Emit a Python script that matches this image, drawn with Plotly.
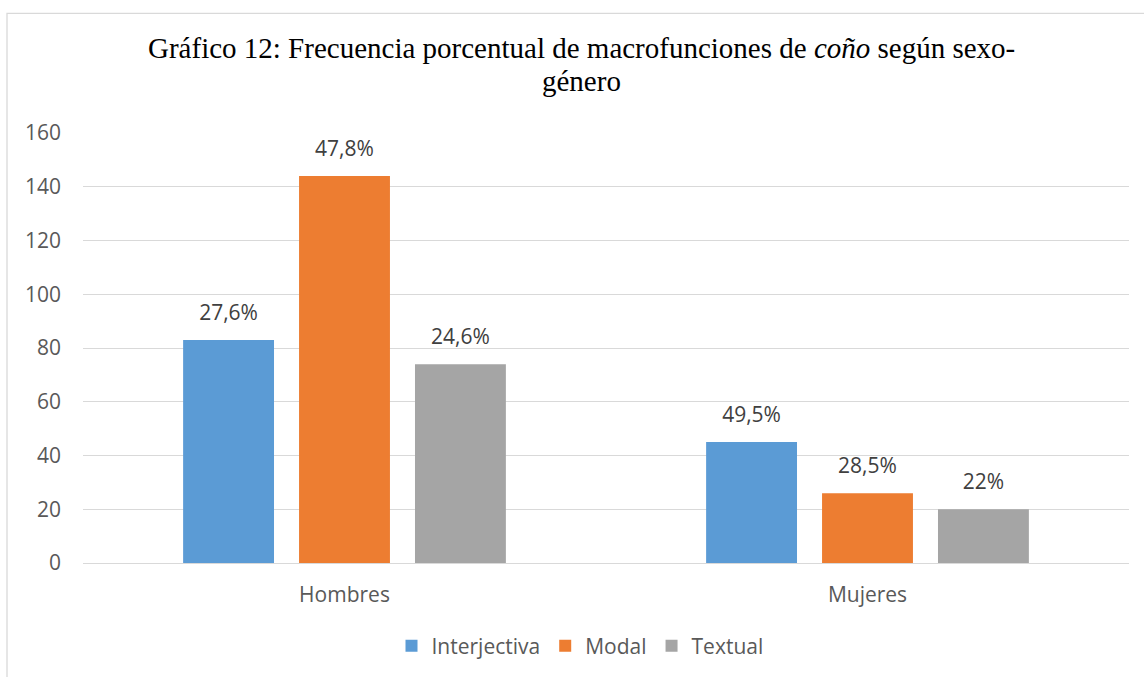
import plotly.graph_objects as go

categories = ["Hombres", "Mujeres"]
series_names = ["Interjectiva", "Modal", "Textual"]
interjectiva = [83, 45]
modal = [144, 26]
textual = [74, 20]
pct_interjectiva = ["27,6%", "49,5%"]
pct_modal = ["47,8%", "28,5%"]
pct_textual = ["24,6%", "22%"]
y_ticks = [0, 20, 40, 60, 80, 100, 120, 140, 160]

colors = ["#5B9BD5", "#ED7D31", "#A5A5A5"]
values = [interjectiva, modal, textual]
labels = [pct_interjectiva, pct_modal, pct_textual]

W, H = 1144, 677
ML, MR, MT, MB = 83, 15, 133, 113
PW, PH = W - ML - MR, H - MT - MB


def px_x(p):
    return (p - ML) / PW


def px_y(p):
    return (H - MB - p) / PH


fig = go.Figure()
for name, vals, col in zip(series_names, values, colors):
    fig.add_trace(go.Bar(
        name=name, x=categories, y=vals, marker_color=col,
        marker_line_width=0, offsetgroup=name,
    ))
for name, vals, txt in zip(series_names, values, labels):
    fig.add_trace(go.Scatter(
        x=categories, y=vals, text=txt, mode="markers+text",
        textposition="top center", offsetgroup=name,
        marker=dict(size=22, opacity=0), showlegend=False, hoverinfo="skip",
        textfont=dict(family="Open Sans", size=21, color="#404040"),
        cliponaxis=False,
    ))

font_sans = "Open Sans"
title_font = dict(family="Liberation Serif", size=29, color="black")
fig.update_layout(
    width=W, height=H,
    margin=dict(l=ML, r=MR, t=MT, b=MB),
    paper_bgcolor="white", plot_bgcolor="white",
    barmode="group", bargap=0.335, bargroupgap=0.216,
    scattermode="group", scattergap=0.335,
    showlegend=True,
    legend=dict(orientation="h", x=px_x(580), xanchor="center",
                y=px_y(646), yanchor="middle",
                font=dict(family=font_sans, size=21, color="#595959"),
                itemwidth=30, traceorder="normal"),
    xaxis=dict(showgrid=False, showline=False, ticks="",
               tickfont=dict(family=font_sans, size=21, color="#595959"),
               ticklabelstandoff=17),
    yaxis=dict(range=[0, 160], tickvals=y_ticks, showgrid=True,
               gridcolor="#D9D9D9", gridwidth=1.3, zeroline=True,
               zerolinecolor="#D9D9D9", zerolinewidth=1.3, showline=False,
               ticks="", ticklabelstandoff=21,
               tickfont=dict(family=font_sans, size=21, color="#595959")),
    annotations=[
        dict(text="Gráfico 12: Frecuencia porcentual de macrofunciones de <i>coño</i> según sexo-",
             xref="paper", yref="paper", x=px_x(581), y=px_y(48),
             xanchor="center", yanchor="middle", showarrow=False,
             font=title_font),
        dict(text="género",
             xref="paper", yref="paper", x=px_x(581), y=px_y(81),
             xanchor="center", yanchor="middle", showarrow=False,
             font=title_font),
    ],
    shapes=[dict(type="rect", xref="paper", yref="paper",
                 x0=px_x(7), x1=px_x(1170), y0=px_y(700), y1=px_y(13),
                 line=dict(color="#D9D9D9", width=1.3), fillcolor="rgba(0,0,0,0)",
                 layer="below")],
)

fig.write_html("out.html")
